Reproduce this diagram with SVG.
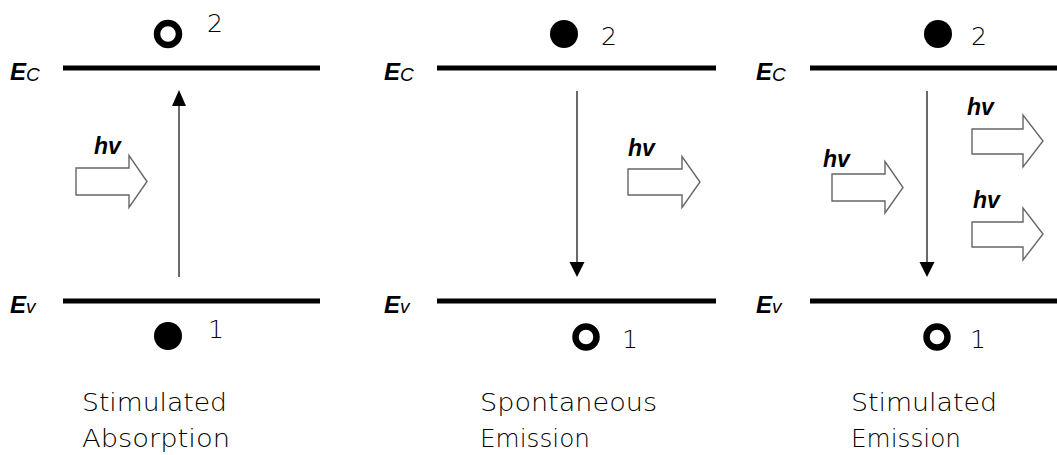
<svg xmlns="http://www.w3.org/2000/svg" width="1057" height="455" viewBox="0 0 1057 455">
  <style>
    .level { stroke: #000; stroke-width: 5; }
    .trans { stroke: #444; stroke-width: 1.6; fill: none; }
    .head { fill: #000; }
    .photon { fill: #fff; stroke: #666; stroke-width: 1.4; stroke-linejoin: miter; }
    .elabel { font-family: "Liberation Sans", Arial, sans-serif; font-style: italic; font-weight: bold; font-size: 24px; fill: #000; }
    .sub { font-size: 19px; font-weight: normal; }
    .hv { font-family: "Liberation Sans", Arial, sans-serif; font-style: italic; font-weight: bold; font-size: 23px; fill: #000; }
    .num { font-family: "DejaVu Sans", "Liberation Sans", sans-serif; font-weight: 200; font-size: 25px; fill: #000; }
    .cap { font-family: "DejaVu Sans", "Liberation Sans", sans-serif; font-weight: 200; font-size: 24px; fill: #000; }
    .filled { fill: #000; }
    .hole { fill: #fff; stroke: #000; stroke-width: 6.5; }
  </style>

  <!-- Panel 1: Stimulated Absorption -->
  <g id="panel1">
    <line class="level" x1="63" y1="68" x2="320" y2="68"/>
    <line class="level" x1="63" y1="301" x2="320" y2="301"/>
    <text class="elabel" x="10" y="80">E<tspan class="sub" dy="1">C</tspan></text>
    <text class="elabel" x="10" y="313">E<tspan class="sub">v</tspan></text>
    <circle class="hole" cx="168" cy="34" r="11"/>
    <text class="num" x="207" y="32">2</text>
    <circle class="filled" cx="168" cy="336" r="14"/>
    <text class="num" x="208" y="338">1</text>
    <text class="hv" x="94" y="154">hv</text>
    <path class="photon" d="M76,168 H129 V155.5 L147,181.5 L129,207.5 V195 H76 Z"/>
    <text class="cap" x="82" y="411" textLength="145" lengthAdjust="spacingAndGlyphs">Stimulated</text>
    <text class="cap" x="82" y="447" textLength="148" lengthAdjust="spacingAndGlyphs">Absorption</text>
  </g>

  <!-- Panel 2: Spontaneous Emission -->
  <g id="panel2">
    <line class="level" x1="437" y1="68" x2="716" y2="68"/>
    <line class="level" x1="437" y1="301" x2="716" y2="301"/>
    <text class="elabel" x="384" y="80">E<tspan class="sub" dy="1">C</tspan></text>
    <text class="elabel" x="384" y="313">E<tspan class="sub">v</tspan></text>
    <circle class="filled" cx="564" cy="34" r="14"/>
    <text class="num" x="601" y="45">2</text>
    <circle class="hole" cx="586" cy="337" r="10.5"/>
    <text class="num" x="622" y="348">1</text>
    <text class="hv" x="628" y="156">hv</text>
    <path class="photon" d="M628,169 H682 V156.5 L700,182 L682,207.5 V195 H628 Z"/>
    <text class="cap" x="480" y="411" textLength="177" lengthAdjust="spacingAndGlyphs">Spontaneous</text>
    <text class="cap" x="480" y="447" textLength="110" lengthAdjust="spacingAndGlyphs">Emission</text>
  </g>

  <!-- Panel 3: Stimulated Emission -->
  <g id="panel3">
    <line class="level" x1="810" y1="68" x2="1057" y2="68"/>
    <line class="level" x1="810" y1="301" x2="1057" y2="301"/>
    <text class="elabel" x="756" y="80">E<tspan class="sub" dy="1">C</tspan></text>
    <text class="elabel" x="756" y="313">E<tspan class="sub">v</tspan></text>
    <circle class="filled" cx="938" cy="34" r="14"/>
    <text class="num" x="971" y="45">2</text>
    <circle class="hole" cx="937" cy="337" r="10.5"/>
    <text class="num" x="970" y="348">1</text>
    <text class="hv" x="823" y="167">hv</text>
    <path class="photon" d="M832,174 H885 V161.5 L903,187.5 L885,213 V201 H832 Z"/>
    <text class="hv" x="967" y="115">hv</text>
    <path class="photon" d="M972,129 H1023 V115 L1043,141 L1023,167 V154 H972 Z"/>
    <text class="hv" x="973" y="208">hv</text>
    <path class="photon" d="M972,222 H1023 V208 L1043,234 L1023,260 V247 H972 Z"/>
    <text class="cap" x="851" y="411" textLength="146" lengthAdjust="spacingAndGlyphs">Stimulated</text>
    <text class="cap" x="851" y="447" textLength="110" lengthAdjust="spacingAndGlyphs">Emission</text>
  </g>

  <!-- Transitions -->
  <g id="connectors">
    <line class="trans" x1="179" y1="277" x2="179" y2="100"/>
    <path class="head" d="M179,90 L172,106 L186,106 Z"/>
    <line class="trans" x1="577" y1="91" x2="577" y2="265"/>
    <path class="head" d="M577,277 L569.5,262 L584.5,262 Z"/>
    <line class="trans" x1="927" y1="91" x2="927" y2="265"/>
    <path class="head" d="M927,277 L919.5,262 L934.5,262 Z"/>
  </g>
</svg>
